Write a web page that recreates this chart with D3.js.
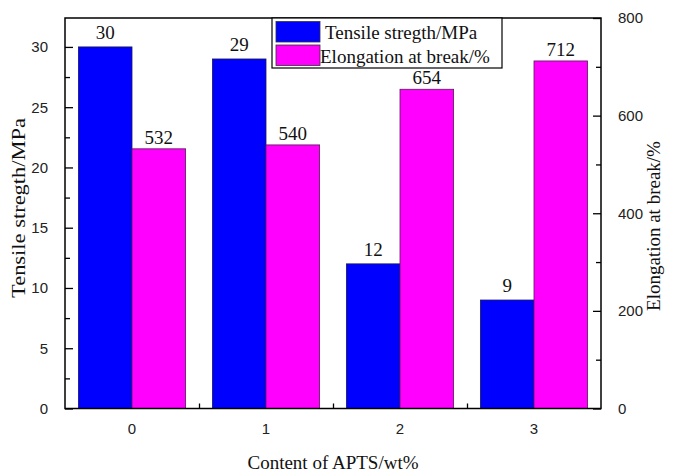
<!DOCTYPE html>
<html>
<head>
<meta charset="utf-8">
<script src="https://cdn.jsdelivr.net/npm/d3@7"></script>
<style>
  html, body { margin: 0; padding: 0; background: #fff; }
  svg { display: block; }
</style>
</head>
<body>
<svg id="chart" width="676" height="474"></svg>
<script>
const categories = ["0", "1", "2", "3"];
const tensile = [30, 29, 12, 9];
const elongation = [532, 540, 654, 712];
const seriesNames = ["Tensile stregth/MPa", "Elongation at break/%"];
const leftTicks = [0, 5, 10, 15, 20, 25, 30];
const rightTicks = [0, 200, 400, 600, 800];

const svg = d3.select("#chart");
const m = { left: 65, right: 601, top: 18, bottom: 408.5 };

const x = d3.scaleBand().domain(categories).range([m.left, m.right]).padding(0);
const yL = d3.scaleLinear().domain([0, 32.4]).range([m.bottom, m.top]);
const yR = d3.scaleLinear().domain([0, 800]).range([m.bottom, m.top]);

const bw = x.bandwidth() * 0.4;
const cx = c => x(c) + x.bandwidth() / 2;

const blue = "#0000ff", mag = "#ff00ff";
const serif = "'Liberation Serif', 'Times New Roman', serif";
const sans = "'Liberation Sans', Arial, sans-serif";

// bars
svg.append("g").selectAll("rect").data(categories).join("rect")
  .attr("x", c => cx(c) - bw).attr("width", bw)
  .attr("y", (c, i) => yL(tensile[i]))
  .attr("height", (c, i) => yL(0) - yL(tensile[i]))
  .attr("fill", blue).attr("stroke", "#1a1a55").attr("stroke-width", 0.8);

svg.append("g").selectAll("rect").data(categories).join("rect")
  .attr("x", c => cx(c)).attr("width", bw)
  .attr("y", (c, i) => yR(elongation[i]))
  .attr("height", (c, i) => yR(0) - yR(elongation[i]))
  .attr("fill", mag).attr("stroke", "#551a55").attr("stroke-width", 0.8);

// value labels
svg.append("g").selectAll("text").data(categories).join("text")
  .attr("x", c => cx(c) - bw / 2)
  .attr("y", (c, i) => yL(tensile[i]) - 8)
  .attr("text-anchor", "middle")
  .attr("font-family", serif).attr("font-size", 19).attr("fill", "#111")
  .text((c, i) => tensile[i]);

svg.append("g").selectAll("text").data(categories).join("text")
  .attr("x", c => cx(c) + bw / 2)
  .attr("y", (c, i) => yR(elongation[i]) - 5)
  .attr("text-anchor", "middle")
  .attr("font-family", serif).attr("font-size", 19).attr("fill", "#111")
  .text((c, i) => elongation[i]);

// left axis
const gL = svg.append("g").attr("transform", `translate(${m.left},0)`)
  .call(d3.axisLeft(yL).tickValues(leftTicks).tickSize(-8).tickPadding(17).tickFormat(d3.format("d")));
gL.select(".domain").remove();
gL.selectAll("text").attr("font-family", sans).attr("font-size", 15).attr("fill", "#222");
gL.selectAll("line").attr("stroke", "#000").attr("stroke-width", 1.3);
svg.append("g").attr("transform", `translate(${m.left},0)`)
  .call(d3.axisLeft(yL).tickValues(d3.range(2.5, 32, 5)).tickSize(-5).tickFormat(""))
  .call(g => g.select(".domain").remove())
  .selectAll("line").attr("stroke", "#000").attr("stroke-width", 1.3);

// right axis
const gR = svg.append("g").attr("transform", `translate(${m.right},0)`)
  .call(d3.axisRight(yR).tickValues(rightTicks).tickSize(-8).tickPadding(17).tickFormat(d3.format("d")));
gR.select(".domain").remove();
gR.selectAll("text").attr("font-family", sans).attr("font-size", 15).attr("fill", "#222");
gR.selectAll("line").attr("stroke", "#000").attr("stroke-width", 1.3);
svg.append("g").attr("transform", `translate(${m.right},0)`)
  .call(d3.axisRight(yR).tickValues(d3.range(100, 800, 200)).tickSize(-5).tickFormat(""))
  .call(g => g.select(".domain").remove())
  .selectAll("line").attr("stroke", "#000").attr("stroke-width", 1.3);

// bottom axis
const gB = svg.append("g").attr("transform", `translate(0,${m.bottom})`)
  .call(d3.axisBottom(x).tickSize(-8).tickPadding(15));
gB.select(".domain").remove();
gB.selectAll("text").attr("font-family", sans).attr("font-size", 15).attr("fill", "#222");
gB.selectAll("line").attr("stroke", "none");
// minor ticks between categories
const xLin = d3.scaleLinear().domain([-0.5, categories.length - 0.5]).range([m.left, m.right]);
svg.append("g").attr("transform", `translate(0,${m.bottom})`)
  .call(d3.axisBottom(xLin).tickValues([0.5, 1.5, 2.5]).tickSize(-5).tickFormat(""))
  .call(g => g.select(".domain").remove())
  .selectAll("line").attr("stroke", "#000").attr("stroke-width", 1.3);

// frame
svg.append("rect").attr("x", m.left).attr("y", m.top)
  .attr("width", m.right - m.left).attr("height", m.bottom - m.top)
  .attr("fill", "none").attr("stroke", "#000").attr("stroke-width", 1.5);

// axis titles
svg.append("text")
  .attr("transform", `translate(25,208) rotate(-90)`)
  .attr("text-anchor", "middle").attr("font-family", serif).attr("font-size", 19).attr("fill", "#111")
  .attr("textLength", 180).attr("lengthAdjust", "spacingAndGlyphs")
  .text("Tensile stregth/MPa");
svg.append("text")
  .attr("transform", `translate(660,226) rotate(-90)`)
  .attr("text-anchor", "middle").attr("font-family", serif).attr("font-size", 19).attr("fill", "#111")
  .text("Elongation at break/%");
svg.append("text")
  .attr("x", (m.left + m.right) / 2).attr("y", 469)
  .attr("text-anchor", "middle").attr("font-family", serif).attr("font-size", 19).attr("fill", "#111")
  .text("Content of APTS/wt%");

// legend
const lg = svg.append("g");
lg.append("rect").attr("x", 272).attr("y", m.top).attr("width", 230).attr("height", 50)
  .attr("fill", "#fff").attr("stroke", "#000").attr("stroke-width", 1.2);
const colors = [blue, mag];
seriesNames.forEach((n, i) => {
  lg.append("rect").attr("x", 276).attr("y", 21.5 + i * 23.5).attr("width", 44).attr("height", 20.5)
    .attr("fill", colors[i]).attr("stroke", "#333").attr("stroke-width", 0.8);
  lg.append("text").attr("x", i === 0 ? 325 : 320).attr("y", 38.5 + i * 24)
    .attr("font-family", serif).attr("font-size", 19).attr("fill", "#111").text(n);
});
</script>
</body>
</html>
